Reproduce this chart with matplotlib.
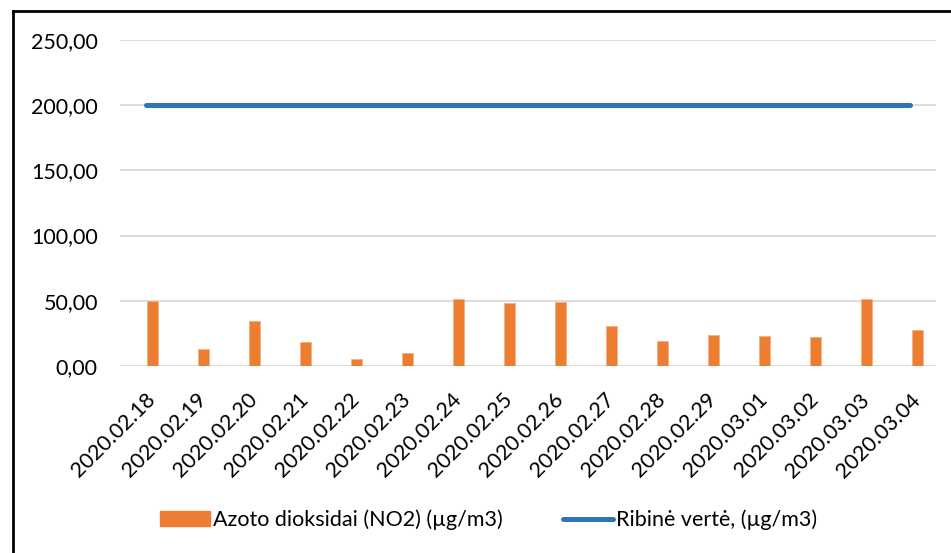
import numpy as np
import matplotlib
matplotlib.use("Agg")
import matplotlib.pyplot as plt
from matplotlib.ticker import FuncFormatter
from matplotlib.lines import Line2D

plt.rcParams['font.family'] = ['Lato', 'DejaVu Sans']

# data
dates = ["2020.02.18", "2020.02.19", "2020.02.20", "2020.02.21", "2020.02.22",
         "2020.02.23", "2020.02.24", "2020.02.25", "2020.02.26", "2020.02.27",
         "2020.02.28", "2020.02.29", "2020.03.01", "2020.03.02", "2020.03.03",
         "2020.03.04"]
no2 = [49.5, 13.1, 34.4, 18.2, 5.4, 10.0, 51.3, 48.2, 49.2, 30.5,
       19.0, 23.6, 22.8, 22.6, 51.3, 27.7]
limit = [200.0] * len(dates)

orange = "#ED7D31"
blue = "#2E75B6"

fig = plt.figure(figsize=(9.51, 5.53), dpi=100)
ax = fig.add_axes([0.1262, 0.3382, 0.858, 0.5895])

x = np.arange(len(dates))
ax.bar(x + 0.14, no2, width=0.22, color=orange, edgecolor="#F4B183",
       linewidth=0.6, zorder=3)
ax.plot(x, limit, color=blue, linewidth=3.6, solid_capstyle="round", zorder=4)

ax.set_xlim(-0.5, len(dates) - 0.5)
ax.set_ylim(0, 250)
ax.set_yticks(np.arange(0, 251, 50))
ax.yaxis.set_major_formatter(FuncFormatter(lambda v, p: f"{v:.2f}".replace(".", ",")))
ax.grid(axis="y", color="#D9D9D9", linewidth=1.3, zorder=0)
ax.set_axisbelow(True)
for s in ax.spines.values():
    s.set_visible(False)

ax.set_xticks(x)
ax.set_xticklabels(dates, rotation=45, ha="right", rotation_mode="anchor")
ax.tick_params(axis="x", length=0, pad=17, labelsize=15.5)
ax.tick_params(axis="y", length=0, pad=16, labelsize=15.5)

# chart border (left and top visible in the crop)
fig.add_artist(Line2D([13 / 951, 13 / 951], [0, 1 - 11 / 553], color="black",
                      linewidth=2, transform=fig.transFigure))
fig.add_artist(Line2D([13 / 951, 1], [1 - 11 / 553, 1 - 11 / 553], color="black",
                      linewidth=2, transform=fig.transFigure))

handles = [plt.Rectangle((0, 0), 1, 1, color=orange),
           Line2D([0], [0], color=blue, linewidth=3.6, solid_capstyle="round")]
labels = ["Azoto dioksidai (NO2) (µg/m3)", "Ribinė vertė, (µg/m3)"]
fig.legend(handles, labels, loc="center left", bbox_to_anchor=(0.1564, 0.06),
           ncol=2, frameon=False, fontsize=15.5, handlelength=2.35,
           handletextpad=0.12, columnspacing=2.8, borderpad=0)

fig.savefig("out.png", dpi=100)
